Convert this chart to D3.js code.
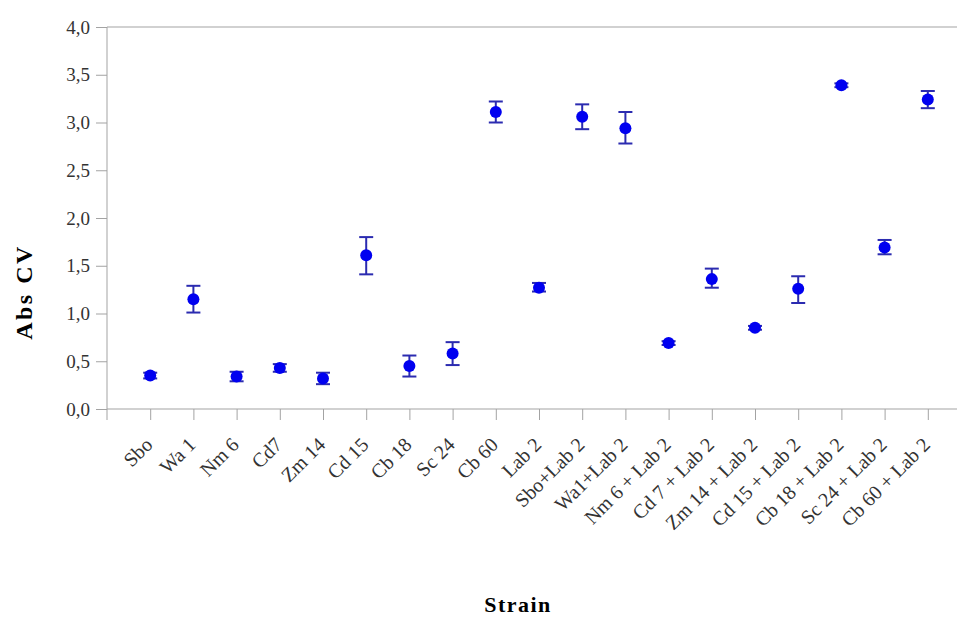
<!DOCTYPE html>
<html>
<head>
<meta charset="utf-8">
<script src="https://cdn.jsdelivr.net/npm/d3@7"></script>
<style>
  body { margin: 0; background: #fff; }
  svg { display: block; }
  svg text { font-family: "Liberation Serif", "DejaVu Serif", serif; }
</style>
</head>
<body>
<script>
// strains on the x axis
var strains = ["Sbo", "Wa 1", "Nm 6", "Cd7", "Zm 14", "Cd 15", "Cb 18", "Sc 24", "Cb 60", "Lab 2",
               "Sbo+Lab 2", "Wa1+Lab 2", "Nm 6 + Lab 2", "Cd 7 + Lab 2", "Zm 14 + Lab 2",
               "Cd 15 + Lab 2", "Cb 18 + Lab 2", "Sc 24 + Lab 2", "Cb 60 + Lab 2"];
// mean Abs CV
var means = [0.35, 1.15, 0.34, 0.43, 0.32, 1.61, 0.45, 0.58, 3.11, 1.27,
             3.06, 2.94, 0.69, 1.36, 0.85, 1.26, 3.39, 1.69, 3.24];
// error bar low / high
var lows  = [0.32, 1.01, 0.29, 0.39, 0.26, 1.41, 0.34, 0.46, 3.00, 1.23,
             2.93, 2.78, 0.67, 1.27, 0.83, 1.11, 3.37, 1.62, 3.15];
var highs = [0.38, 1.29, 0.39, 0.47, 0.38, 1.80, 0.56, 0.70, 3.22, 1.32,
             3.19, 3.11, 0.71, 1.47, 0.87, 1.39, 3.41, 1.77, 3.33];
var yTicks = [0, 0.5, 1, 1.5, 2, 2.5, 3, 3.5, 4];

var W = 957, H = 618;
var plotLeft = 107, plotTop = 27, plotBottom = 409;
var axisColor = "#a3a3a3";

var svg = d3.select("body").append("svg")
    .attr("width", W)
    .attr("height", H);

var x = d3.scalePoint()
    .domain(strains)
    .range([plotLeft, 971])
    .padding(1);

var y = d3.scaleLinear()
    .domain([0, 4])
    .range([plotBottom, plotTop]);

var fmt = function(d){ return d3.format(".1f")(d).replace(".", ","); };

//y axis
var yAxis = svg.append("g")
    .attr("transform", "translate(" + plotLeft + ",0)")
    .call(d3.axisLeft(y).tickValues(yTicks).tickFormat(fmt).tickSize(11).tickPadding(6).tickSizeOuter(0));
yAxis.select(".domain").remove();
yAxis.selectAll(".tick line").attr("stroke", axisColor);
yAxis.selectAll("text").style("font-size", "19px").attr("fill", "#333");

//x axis
var xAxis = svg.append("g")
    .attr("transform", "translate(0," + plotBottom + ")")
    .call(d3.axisBottom(x).tickSize(11).tickSizeOuter(0));
xAxis.select(".domain").remove();
xAxis.selectAll(".tick line").attr("stroke", axisColor);
xAxis.selectAll("text")
    .style("font-size", "20px")
    .attr("fill", "#333")
    .attr("text-anchor", "end")
    .attr("x", 0)
    .attr("y", 0)
    .attr("dy", 0)
    .attr("transform", "translate(3,37) rotate(-45)");

//frame lines
svg.append("line").attr("x1", plotLeft).attr("x2", plotLeft).attr("y1", plotTop).attr("y2", plotBottom + 11)
    .attr("stroke", axisColor);
svg.append("line").attr("x1", plotLeft).attr("x2", W).attr("y1", plotBottom).attr("y2", plotBottom)
    .attr("stroke", axisColor);
svg.append("line").attr("x1", plotLeft).attr("x2", W).attr("y1", plotTop).attr("y2", plotTop)
    .attr("stroke", axisColor);

//error bars
var bars = svg.append("g").selectAll("g")
    .data(strains)
    .enter()
    .append("g")
    .attr("stroke", "#2b2bb0")
    .attr("stroke-width", 2);
bars.append("line")
    .attr("x1", function(d){ return x(d); })
    .attr("x2", function(d){ return x(d); })
    .attr("y1", function(d, i){ return y(lows[i]); })
    .attr("y2", function(d, i){ return y(highs[i]); });
bars.append("line")
    .attr("x1", function(d){ return x(d) - 7; })
    .attr("x2", function(d){ return x(d) + 7; })
    .attr("y1", function(d, i){ return y(lows[i]); })
    .attr("y2", function(d, i){ return y(lows[i]); });
bars.append("line")
    .attr("x1", function(d){ return x(d) - 7; })
    .attr("x2", function(d){ return x(d) + 7; })
    .attr("y1", function(d, i){ return y(highs[i]); })
    .attr("y2", function(d, i){ return y(highs[i]); });

//points
svg.append("g").selectAll("circle")
    .data(strains)
    .enter()
    .append("circle")
    .attr("cx", function(d){ return x(d); })
    .attr("cy", function(d, i){ return y(means[i]); })
    .attr("r", 6)
    .style("fill", "#0000f0");

//axis titles
svg.append("text")
    .attr("x", 518).attr("y", 612)
    .attr("text-anchor", "middle")
    .style("font-size", "22px").style("font-weight", "bold")
    .style("letter-spacing", "1.5px")
    .text("Strain");
svg.append("text")
    .attr("transform", "translate(32,292) rotate(-90)")
    .attr("text-anchor", "middle")
    .style("font-size", "24px").style("font-weight", "bold")
    .style("letter-spacing", "2.5px")
    .text("Abs CV");
</script>
</body>
</html>
